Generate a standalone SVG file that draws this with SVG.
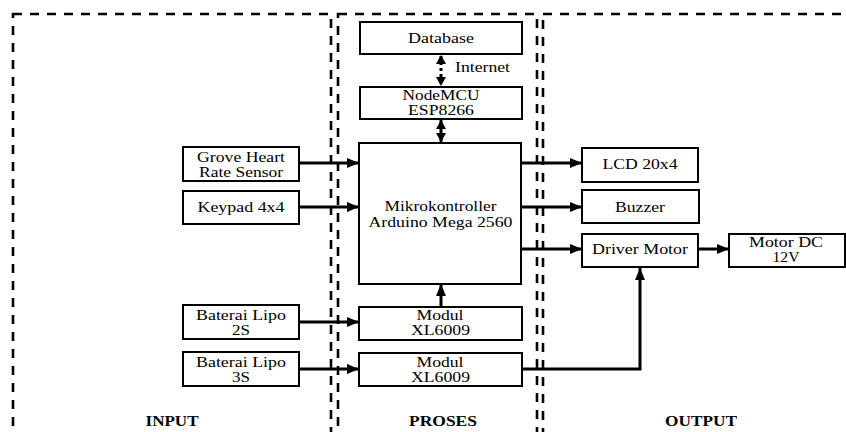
<svg xmlns="http://www.w3.org/2000/svg" width="846" height="432" viewBox="0 0 846 432" font-family="'Liberation Serif', 'Times New Roman', serif">
<style>
.panel{fill:none;stroke:#000;stroke-width:2.6;stroke-dasharray:9 8}
.box{fill:#fff;stroke:#000;stroke-width:2}
text{font-family:'Liberation Serif','Times New Roman',serif}
.t{font-size:15px;fill:#000;text-anchor:middle}
.lbl{font-size:15px;font-weight:bold;fill:#000;text-anchor:middle}
.c{fill:none;stroke:#000;stroke-width:3}
</style>
<defs>
<marker id="ah" markerUnits="userSpaceOnUse" markerWidth="12" markerHeight="10" refX="12" refY="5" orient="auto-start-reverse" viewBox="0 0 12 10">
<path d="M0,0 L12,5 L0,10 z" fill="#000"/>
</marker>
<marker id="as" markerUnits="userSpaceOnUse" markerWidth="9" markerHeight="10" refX="9" refY="5" orient="auto-start-reverse" viewBox="0 0 9 10">
<path d="M0,0 L9,5 L0,10 z" fill="#000"/>
</marker>
</defs>
<rect width="846" height="432" fill="#fff"/>
<g id="panels">
<rect class="panel" x="13" y="14" width="318" height="500"/>
<rect class="panel" x="338" y="14" width="199" height="500"/>
<rect class="panel" x="543" y="14" width="400" height="500"/>
</g>
<g id="connectors">
<line class="c" x1="299" y1="163" x2="359" y2="163" marker-end="url(#ah)"/>
<line class="c" x1="299" y1="207" x2="359" y2="207" marker-end="url(#ah)"/>
<line class="c" x1="299" y1="322" x2="359" y2="322" marker-end="url(#ah)"/>
<line class="c" x1="299" y1="369" x2="359" y2="369" marker-end="url(#ah)"/>
<line class="c" x1="521" y1="163" x2="582" y2="163" marker-end="url(#ah)"/>
<line class="c" x1="521" y1="207" x2="582" y2="207" marker-end="url(#ah)"/>
<line class="c" x1="521" y1="249" x2="582" y2="249" marker-end="url(#ah)"/>
<line class="c" x1="698" y1="249" x2="729" y2="249" marker-end="url(#ah)"/>
<line class="c" x1="441" y1="307" x2="441" y2="284" marker-end="url(#ah)"/>
<line class="c" x1="441" y1="120" x2="441" y2="142" marker-start="url(#as)" marker-end="url(#as)"/>
<line class="c" x1="441" y1="55" x2="441" y2="86" stroke-dasharray="3 3" stroke-dashoffset="-1" marker-start="url(#as)" marker-end="url(#as)"/>
<path class="c" d="M522,369 H640 V268" marker-end="url(#ah)"/>
</g>
<g id="database"><rect class="box" x="360" y="22" width="162" height="32"/><text class="t" x="441" y="43" textLength="66" lengthAdjust="spacingAndGlyphs">Database</text></g>
<g id="internet-label"><text class="t" x="482.5" y="72" textLength="55" lengthAdjust="spacingAndGlyphs">Internet</text></g>
<g id="nodemcu"><rect class="box" x="360" y="87" width="162" height="32"/><text class="t" x="441" y="100" textLength="77" lengthAdjust="spacingAndGlyphs">NodeMCU</text><text class="t" x="441" y="115" textLength="66" lengthAdjust="spacingAndGlyphs">ESP8266</text></g>
<g id="mikro"><rect class="box" x="359" y="143" width="162" height="141"/><text class="t" x="440.5" y="211" textLength="112" lengthAdjust="spacingAndGlyphs">Mikrokontroller</text><text class="t" x="440.5" y="227" textLength="144" lengthAdjust="spacingAndGlyphs">Arduino Mega 2560</text></g>
<g id="grove"><rect class="box" x="183" y="147" width="116" height="34"/><text class="t" x="241" y="161.5" textLength="88" lengthAdjust="spacingAndGlyphs">Grove Heart</text><text class="t" x="241" y="177" textLength="84" lengthAdjust="spacingAndGlyphs">Rate Sensor</text></g>
<g id="keypad"><rect class="box" x="183" y="191" width="116" height="33"/><text class="t" x="241" y="212" textLength="87" lengthAdjust="spacingAndGlyphs">Keypad 4x4</text></g>
<g id="lipo2s"><rect class="box" x="183" y="305" width="116" height="34"/><text class="t" x="241" y="319.5" textLength="90" lengthAdjust="spacingAndGlyphs">Baterai Lipo</text><text class="t" x="241" y="335" textLength="18" lengthAdjust="spacingAndGlyphs">2S</text></g>
<g id="lipo3s"><rect class="box" x="183" y="352" width="116" height="34"/><text class="t" x="241" y="366.5" textLength="90" lengthAdjust="spacingAndGlyphs">Baterai Lipo</text><text class="t" x="241" y="382" textLength="18" lengthAdjust="spacingAndGlyphs">3S</text></g>
<g id="modul1"><rect class="box" x="359" y="307" width="163" height="33"/><text class="t" x="440" y="319.5" textLength="47" lengthAdjust="spacingAndGlyphs">Modul</text><text class="t" x="440.5" y="335" textLength="59" lengthAdjust="spacingAndGlyphs">XL6009</text></g>
<g id="modul2"><rect class="box" x="359" y="353" width="163" height="33"/><text class="t" x="440" y="366.5" textLength="47" lengthAdjust="spacingAndGlyphs">Modul</text><text class="t" x="440.5" y="382" textLength="59" lengthAdjust="spacingAndGlyphs">XL6009</text></g>
<g id="lcd"><rect class="box" x="582" y="148" width="116" height="34"/><text class="t" x="640" y="169" textLength="75" lengthAdjust="spacingAndGlyphs">LCD 20x4</text></g>
<g id="buzzer"><rect class="box" x="582" y="190" width="117" height="33"/><text class="t" x="640" y="212" textLength="50" lengthAdjust="spacingAndGlyphs">Buzzer</text></g>
<g id="driver"><rect class="box" x="582" y="234" width="116" height="33"/><text class="t" x="640" y="254" textLength="96" lengthAdjust="spacingAndGlyphs">Driver Motor</text></g>
<g id="motordc"><rect class="box" x="729" y="234" width="116" height="33"/><text class="t" x="786" y="247" textLength="74" lengthAdjust="spacingAndGlyphs">Motor DC</text><text class="t" x="786" y="262" textLength="27" lengthAdjust="spacingAndGlyphs">12V</text></g>
<g id="labels">
<text class="lbl" x="172" y="426" textLength="53" lengthAdjust="spacingAndGlyphs">INPUT</text>
<text class="lbl" x="443" y="426" textLength="68" lengthAdjust="spacingAndGlyphs">PROSES</text>
<text class="lbl" x="701" y="426" textLength="72" lengthAdjust="spacingAndGlyphs">OUTPUT</text>
</g>
</svg>
